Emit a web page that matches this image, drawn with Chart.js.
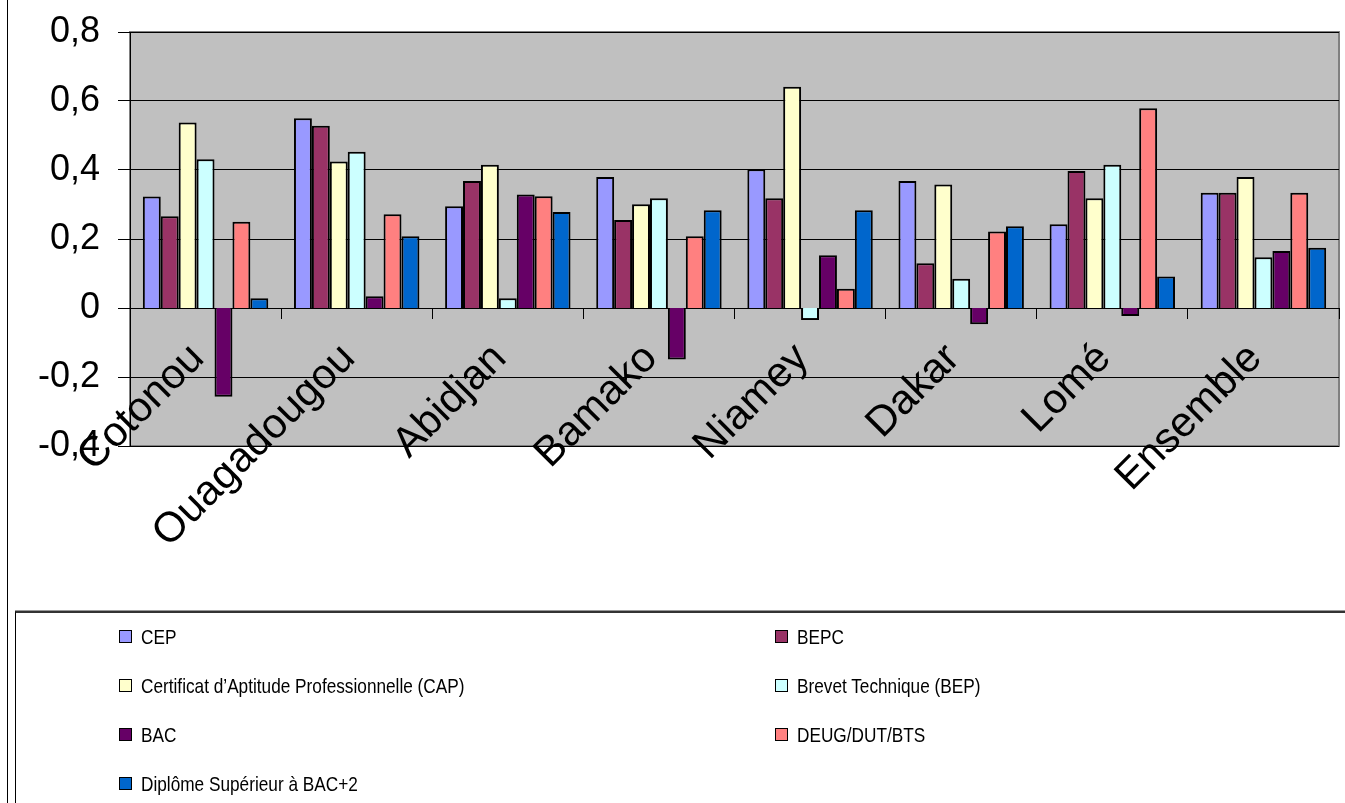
<!DOCTYPE html>
<html>
<head>
<meta charset="utf-8">
<script src="https://cdn.jsdelivr.net/npm/chart.js@4.4.1/dist/chart.umd.min.js"></script>
<style>
  html, body { margin: 0; padding: 0; background: #fff; }
  body { width: 1345px; height: 803px; position: relative; overflow: hidden; font-family: 'Liberation Sans', Arial, sans-serif; }
  #frame { position: absolute; left: 7px; top: 0; width: 0; height: 803px; border-left: 1px solid #000; }
  #wrap { position: absolute; left: 0; top: 0; width: 1345px; height: 612px; }
  #legend {
    position: absolute; left: 15px; top: 611px; width: 1340px; height: 200px;
    border-left: 1px solid #000; border-top: 2px solid #333;
    box-shadow: 0 -1px 0 #999;
  }
  .item { position: absolute; font-size: 21px; color: #000; line-height: 24px; white-space: nowrap; }
  .item span.sw {
    position: absolute; left: 0; top: 5px; width: 11px; height: 11px;
    border: 1px solid #000;
  }
  .item span.tx { position: absolute; left: 22px; top: 0; transform: scaleX(0.82); transform-origin: 0 50%; }
</style>
</head>
<body>
<div id="frame"></div>
<div id="wrap"><canvas id="chart"></canvas></div>
<div id="legend"></div>

<script>
/* ── Data ─────────────────────────────────────────────────────────────────── */
const CITIES = ['Cotonou', 'Ouagadougou', 'Abidjan', 'Bamako', 'Niamey', 'Dakar', 'Lomé', 'Ensemble'];

const SERIES_NAMES = [
  'CEP',
  'BEPC',
  'Certificat d\u2019Aptitude Professionnelle (CAP)',
  'Brevet Technique (BEP)',
  'BAC',
  'DEUG/DUT/BTS',
  'Diplôme Supérieur à BAC+2',
];

const CEP  = [0.323, 0.550, 0.295, 0.380, 0.402, 0.368, 0.243, 0.334];
const BEPC = [0.266, 0.528, 0.368, 0.255, 0.318, 0.130, 0.397, 0.334];
const CAP  = [0.538, 0.425, 0.415, 0.301, 0.641, 0.358, 0.318, 0.380];
const BEP  = [0.431, 0.453, 0.028, 0.318, -0.035, 0.085, 0.415, 0.147];
const BAC  = [-0.257, 0.034, 0.329, -0.149, 0.153, -0.047, -0.023, 0.165];
const DEUG = [0.250, 0.272, 0.324, 0.208, 0.056, 0.222, 0.579, 0.334];
const SUP  = [0.028, 0.208, 0.278, 0.283, 0.283, 0.237, 0.091, 0.175];

const SERIES_VALUES = [CEP, BEPC, CAP, BEP, BAC, DEUG, SUP];
const SERIES_COLORS = ['#9999FF', '#993366', '#FFFFCC', '#CCFFFF', '#660066', '#FF8080', '#0066CC'];

const Y_MIN = -0.4, Y_MAX = 0.8, Y_STEP = 0.2;

/* ── Plot area background + frame ────────────────────────────────────────── */
const plotBg = {
  id: 'plotBg',
  beforeDraw(chart) {
    const { ctx, chartArea: a } = chart;
    ctx.save();
    ctx.fillStyle = '#C0C0C0';
    ctx.fillRect(a.left, a.top, a.right - a.left, a.bottom - a.top);
    ctx.strokeStyle = '#808080';
    ctx.lineWidth = 2;
    ctx.strokeRect(a.left, a.top, a.right - a.left, a.bottom - a.top);
    ctx.restore();
  },
};

/* ── Chart ────────────────────────────────────────────────────────────────── */
new Chart(document.getElementById('chart'), {
  type: 'bar',
  data: {
    labels: CITIES,
    datasets: SERIES_NAMES.map((name, i) => ({
      label          : name,
      data           : SERIES_VALUES[i],
      backgroundColor: SERIES_COLORS[i],
      borderColor    : '#000',
      borderWidth    : 2,
      categoryPercentage: 0.83,
      barPercentage  : 1,
    })),
  },
  options: {
    responsive: true,
    maintainAspectRatio: false,
    animation: false,
    layout: { padding: { left: 0, right: 6, top: 32, bottom: 166 } },
    plugins: { legend: { display: false }, tooltip: { enabled: false } },
    scales: {
      x: {
        position: { y: 0 },
        grid  : { drawOnChartArea: false, drawTicks: true, tickLength: 10, color: '#000', offset: true },
        border: { color: '#000', width: 1 },
        ticks : {
          color: '#000', autoSkip: false, minRotation: 45, maxRotation: 45,
          padding: 16, labelOffset: -8,
          font: { family: 'Liberation Sans', size: 42 },
        },
      },
      y: {
        min: Y_MIN, max: Y_MAX,
        afterFit: s => { s.width = 130; s.paddingTop = 0; s.paddingBottom = 0; },
        grid  : { color: '#000', lineWidth: 1, tickLength: 12, drawTicks: true },
        border: { color: '#000', width: 1 },
        ticks : {
          stepSize: Y_STEP, color: '#000', padding: 18,
          font: { family: 'Liberation Sans', size: 36 },
          callback: v => String(Math.round(v * 10) / 10).replace('.', ','),
        },
      },
    },
  },
  plugins: [plotBg],
});

/* ── Legend (two columns, row order) ──────────────────────────────────────── */
const legend = document.getElementById('legend');
const COL_X = [103, 759];
const ROW_Y = [12, 61, 110, 159];
SERIES_NAMES.forEach((name, i) => {
  const el = document.createElement('div');
  el.className = 'item';
  el.style.left = COL_X[i % 2] + 'px';
  el.style.top  = ROW_Y[Math.floor(i / 2)] + 'px';
  el.innerHTML = '<span class="sw" style="background:' + SERIES_COLORS[i] + '"></span><span class="tx"></span>';
  el.querySelector('.tx').textContent = name;
  legend.appendChild(el);
});
</script>
</body>
</html>
